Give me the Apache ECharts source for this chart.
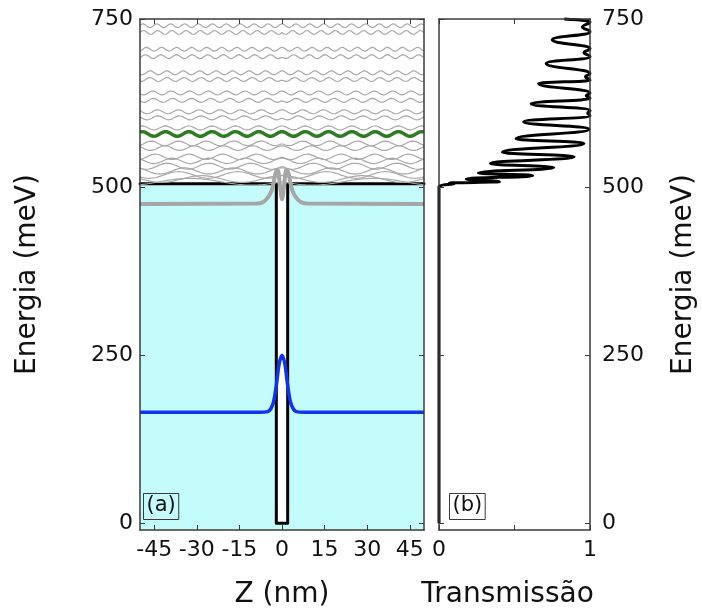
<!DOCTYPE html>
<html>
<head>
<meta charset="utf-8">
<script src="https://cdn.jsdelivr.net/npm/echarts@6/dist/echarts.min.js"></script>
<style>
  html, body { margin: 0; padding: 0; background: #fff; }
  #chart { width: 702px; height: 614px; }
</style>
</head>
<body>
<div id="chart"></div>
<script>
// Potential profile of the well: position (nm) and band edge (meV)
const wellZ = [-50, -2, -2, 2, 2, 50];
const wellV = [505, 505, 0, 0, 505, 505];

// Bound state, drawn on top of its energy level (meV)
const boundZ = [-50, -8, -5, -4, -3, -2, -1, 0, 1, 2, 3, 4, 5, 8, 50];
const boundE = [165, 165, 166, 170, 180, 205, 237, 250, 237, 205, 180, 170, 166, 165, 165];

// Quasi-bound resonance just below the barrier top
const resZ = [-50, -9, -6.6, -4.8, -3.6, -2.8, -2.1, -1.5, -0.8, 0, 0.8, 1.5, 2.1, 2.8, 3.6, 4.8, 6.6, 9, 50];
const resE = [475, 475.5, 478, 485.5, 495.5, 510, 523, 525, 505, 482, 505, 525, 523, 510, 495.5, 485.5, 478, 475.5, 475];

// Continuum states above the barrier: level (meV), spatial period (nm), amplitude (meV)
const contLevels  = [740, 730, 705, 694, 670, 660, 640, 629, 612, 603, 588, 565, 558, 545, 539, 531, 524, 518, 512, 508];
const contPeriods = [4.9, 5.0, 5.3, 5.5, 5.8, 6.0, 6.5, 6.7, 7.3, 7.6, 8.2, 9.7, 10.3, 11.9, 12.9, 14.7, 17.2, 20.8, 28.3, 43];
const contAmps    = [3, 3, 3, 3, 3, 3, 3, 3, 3, 3, 3, 3.5, 3.5, 4, 4, 4.5, 4.5, 5, 5, 5];

// Highlighted continuum state
const greenLevel = 579;
const greenPeriod = 8.2;
const greenAmp = 3.5;

// Transmission spectrum: energy (meV) and transmission coefficient
const transE = [0, 501, 503, 504.5, 506, 508, 512, 517, 521, 529, 535, 545, 552, 565, 572, 586, 597,
                606, 610, 614, 624, 632, 636, 640, 654, 659, 664, 669, 684, 694, 700, 706, 719, 731, 738, 746, 750];
const transT = [0, 0, 0.02, 0.10, 0.07, 0.40, 0.18, 0.62, 0.26, 0.76, 0.34, 0.895, 0.42, 0.96, 0.51, 0.995, 0.56,
                1.0, 0.985, 1.0, 0.61, 1.0, 0.975, 1.0, 0.66, 1.0, 0.97, 1.0, 0.71, 1.0, 0.96, 1.0, 0.75, 1.0, 0.95, 1.0, 0.83];

// Axis ticks and labels
const zTicks = [-45, -30, -15, 0, 15, 30, 45];
const eTicks = [0, 250, 500, 750];
const tTicks = [0, 0.5, 1];
const tLabels = [0, 1];

const FONT = 'DejaVu Sans';
const FRAME = '#3a3a3a';

function zip(xs, ys) { return xs.map((x, i) => [x, ys[i]]); }

// Standing wave of a continuum state; odd-indexed partners carry a kink at the well
function waveLine(level, period, amp, odd) {
  const pts = [];
  const k = 2 * Math.PI / period;
  for (let i = 0; i <= 500; i++) {
    const z = -50 + i * 0.2;
    const y = odd ? level - amp * Math.sin(k * Math.abs(z)) : level + amp * Math.cos(k * z);
    pts.push([z, y]);
  }
  return pts;
}

const frameAxis = { show: true, onZero: false, lineStyle: { color: FRAME, width: 1.5 } };
const tickStyle = { inside: true, length: 5, lineStyle: { color: FRAME, width: 1 } };
const labelStyle = { fontFamily: FONT, fontSize: 22, color: '#111' };
const nameStyle = { fontFamily: FONT, fontSize: 28, color: '#111' };

const series = [];

// Well profile with the filled barrier region
series.push({
  type: 'line', xAxisIndex: 0, yAxisIndex: 0, data: zip(wellZ, wellV),
  showSymbol: false, symbol: 'none', z: 1,
  lineStyle: { color: '#000', width: 3, join: 'round', cap: 'round' },
  areaStyle: { color: '#c4fbfb', opacity: 1, origin: 'start' }
});

contLevels.forEach((lv, i) => {
  series.push({
    type: 'line', xAxisIndex: 0, yAxisIndex: 0,
    data: waveLine(lv, contPeriods[i], contAmps[i], i % 2 === 1),
    symbol: 'none', z: 2,
    lineStyle: { color: '#a8a8a8', width: 1.2 }
  });
});

series.push({
  type: 'line', xAxisIndex: 0, yAxisIndex: 0,
  data: waveLine(greenLevel, greenPeriod, greenAmp, false),
  symbol: 'none', z: 3,
  lineStyle: { color: '#2e7d23', width: 3.5 }
});

series.push({
  type: 'line', xAxisIndex: 0, yAxisIndex: 0, data: zip(boundZ, boundE),
  symbol: 'none', smooth: 0.35, z: 4,
  lineStyle: { color: '#1133ee', width: 3.5 }
});

series.push({
  type: 'line', xAxisIndex: 0, yAxisIndex: 0, data: zip(resZ, resE),
  symbol: 'none', smooth: 0.35, z: 4,
  lineStyle: { color: '#a6a6a6', width: 4 }
});

series.push({
  type: 'line', xAxisIndex: 2, yAxisIndex: 3, data: zip(transT, transE),
  symbol: 'none', smooth: 0.5, smoothMonotone: 'y', clip: false, z: 4,
  lineStyle: { color: '#000', width: 3 }
});

const option = {
  animation: false,
  backgroundColor: '#fff',
  grid: [
    { left: 140, top: 19, width: 284, height: 511 },
    { left: 439, top: 19, width: 151, height: 511 }
  ],
  xAxis: [
    {
      gridIndex: 0, type: 'value', min: -50, max: 50, position: 'bottom', z: 10,
      axisLine: frameAxis, axisTick: Object.assign({ customValues: zTicks }, tickStyle),
      axisLabel: Object.assign({ customValues: zTicks, margin: 9 }, labelStyle),
      splitLine: { show: false },
      name: 'Z (nm)', nameLocation: 'middle', nameGap: 51, nameTextStyle: nameStyle
    },
    {
      gridIndex: 0, type: 'value', min: -50, max: 50, position: 'top', z: 10,
      axisLine: frameAxis, axisTick: Object.assign({ customValues: zTicks }, tickStyle),
      axisLabel: { show: false }, splitLine: { show: false }
    },
    {
      gridIndex: 1, type: 'value', min: 0, max: 1, position: 'bottom', z: 10,
      axisLine: frameAxis, axisTick: Object.assign({ customValues: tTicks }, tickStyle),
      axisLabel: Object.assign({ customValues: tLabels, margin: 9 }, labelStyle),
      splitLine: { show: false },
      name: 'Transmissão', nameLocation: 'middle', nameGap: 51,
      nameTextStyle: Object.assign({ padding: [0, 14, 0, 0] }, nameStyle)
    },
    {
      gridIndex: 1, type: 'value', min: 0, max: 1, position: 'top', z: 10,
      axisLine: frameAxis, axisTick: Object.assign({ customValues: tTicks }, tickStyle),
      axisLabel: { show: false }, splitLine: { show: false }
    }
  ],
  yAxis: [
    {
      gridIndex: 0, type: 'value', min: -10, max: 750, position: 'left', z: 10,
      axisLine: frameAxis, axisTick: Object.assign({ customValues: eTicks }, tickStyle),
      axisLabel: Object.assign({ customValues: eTicks, margin: 7 }, labelStyle),
      splitLine: { show: false },
      name: 'Energia (meV)', nameLocation: 'middle', nameRotate: 90, nameGap: 98, nameTextStyle: nameStyle
    },
    {
      gridIndex: 0, type: 'value', min: -10, max: 750, position: 'right', z: 10,
      axisLine: frameAxis, axisTick: Object.assign({ customValues: eTicks }, tickStyle),
      axisLabel: { show: false }, splitLine: { show: false }
    },
    {
      gridIndex: 1, type: 'value', min: -10, max: 750, position: 'left', z: 10,
      axisLine: frameAxis, axisTick: Object.assign({ customValues: eTicks }, tickStyle),
      axisLabel: { show: false }, splitLine: { show: false }
    },
    {
      gridIndex: 1, type: 'value', min: -10, max: 750, position: 'right', z: 10,
      axisLine: frameAxis, axisTick: Object.assign({ customValues: eTicks }, tickStyle),
      axisLabel: Object.assign({ customValues: eTicks, margin: 12 }, labelStyle),
      splitLine: { show: false },
      name: 'Energia (meV)', nameLocation: 'middle', nameRotate: 90, nameGap: 80, nameTextStyle: nameStyle
    }
  ],
  graphic: [
    {
      type: 'text', left: 143, top: 493, z: 20,
      style: {
        text: '(a)', font: '21px "DejaVu Sans"', fill: '#111',
        borderColor: FRAME, borderWidth: 1, padding: [2, 3, 3, 3]
      }
    },
    {
      type: 'text', left: 449, top: 493, z: 20,
      style: {
        text: '(b)', font: '21px "DejaVu Sans"', fill: '#111',
        borderColor: FRAME, borderWidth: 1, padding: [2, 3, 3, 3]
      }
    }
  ],
  series: series
};

const chart = echarts.init(document.getElementById('chart'), null, { renderer: 'canvas' });
chart.setOption(option);
</script>
</body>
</html>
